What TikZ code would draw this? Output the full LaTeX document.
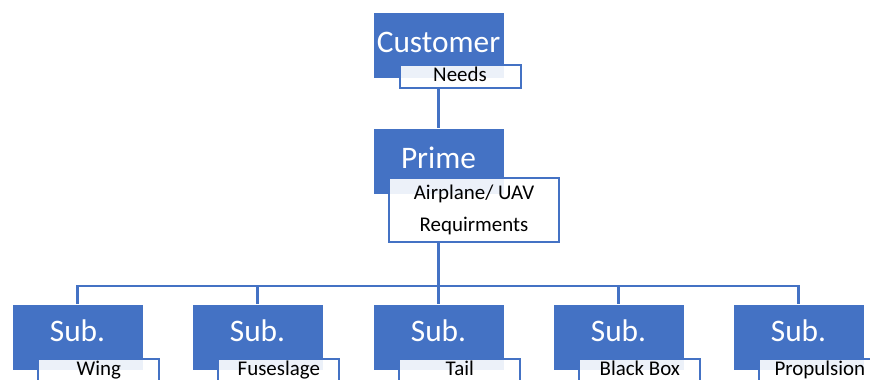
\documentclass[tikz,border=0pt]{standalone}
\usepackage{fontspec}
\setmainfont{Carlito}
\definecolor{accent}{HTML}{4472C4}
\tikzset{
  x=0.75pt, y=-0.75pt,
  bluebox/.style={draw=white, line width=0.4pt, fill=accent, minimum width=98.25pt,
    minimum height=49.5pt, inner sep=0pt},
  bigtext/.style={text=white, font=\fontsize{23.5}{27}\selectfont, inner sep=0pt},
  tagbox/.style={draw=accent, line width=1.5pt, fill=white, fill opacity=0.9,
    text opacity=1, text=black, minimum width=90.75pt, minimum height=17.25pt,
    inner sep=0pt, font=\fontsize{15.7}{24}\selectfont, align=center},
  onerow/.style={text height=11.3pt, text depth=3.7pt},
  conn/.style={draw=accent, line width=1.6pt},
}
\begin{document}
\begin{tikzpicture}
\useasboundingbox (0,0) rectangle (870,379);
\clip (0,0) rectangle (870,379);

% top level
\node[bluebox, label={[bigtext, yshift=2.6pt]center:Customer}] (cust) at (438.5,45.5) {};
\node[tagbox, onerow] (needs) at (460,76.5) {Needs};

% prime level
\node[bluebox, label={[bigtext, yshift=2.6pt]center:Prime}] (prime) at (438.5,161) {};
\node[tagbox, minimum width=127.5pt, minimum height=48pt] (req) at (474,209.5)
  {Airplane/ UAV\\Requirments};

% subcontractor level
\foreach \i/\x/\t in {1/77.5/Wing, 2/257.5/Fuseslage, 3/438.5/Tail, 4/618.5/Black Box, 5/798.5/Propulsion}{
  \node[bluebox, label={[bigtext, yshift=4.5pt]center:Sub.}] (sub\i) at (\x,337) {};
  \node[tagbox, onerow] (tag\i) at ([xshift=16pt]sub\i.south) {\t};
}

% connectors
\coordinate (bus) at (438.5,286);
\draw[conn] (cust.south |- needs.south) -- (prime.north);
\draw[conn] (prime.south |- req.south) -- (bus);
\foreach \i in {1,...,5}{
  \draw[conn] (bus) -| (sub\i.north);
}
\end{tikzpicture}
\end{document}
